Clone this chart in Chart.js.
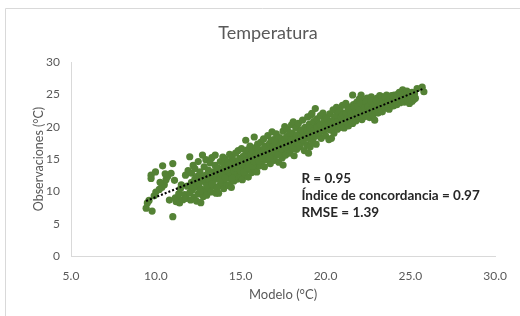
<!DOCTYPE html>
<html>
<head>
<meta charset="utf-8">
<script src="https://cdn.jsdelivr.net/npm/chart.js@4.4.1/dist/chart.umd.min.js"></script>
<style>
  html, body { margin: 0; padding: 0; background: #fff; }
  canvas { display: block; }
</style>
</head>
<body>
<canvas id="grafico" width="520" height="316"></canvas>
<script>
// Modelo (x) vs Observaciones (y), 10 puntos por linea
const modelo = [
  9.43, 9.78, 9.5, 9.6, 9.72, 9.98, 9.72, 10.4, 9.9, 10.0,
  10.2, 10.35, 10.5, 10.7, 10.6, 10.8, 11.0, 11.0, 11.2, 10.9,
  11.1, 10.55, 10.25, 11.15, 11.3, 11.4, 11.5, 11.35, 11.45, 11.6,
  11.7, 11.75, 11.8, 11.85, 11.9, 12.0, 12.0, 12.05, 12.1, 12.1,
  12.15, 12.2, 12.25, 12.3, 12.3, 12.35, 12.4, 12.45, 12.5, 12.5,
  12.55, 12.6, 12.65, 12.7, 12.75, 12.75, 12.8, 12.85, 12.9, 12.9,
  12.95, 13.0, 13.0, 13.05, 13.1, 13.15, 13.2, 13.2, 13.25, 13.3,
  13.35, 13.4, 13.4, 13.45, 13.5, 13.5, 13.55, 13.6, 13.65, 13.7,
  13.7, 13.75, 13.8, 13.85, 13.9, 13.9, 13.95, 14.0, 14.0, 14.0,
  14.05, 14.1, 14.1, 14.15, 14.2, 14.25, 14.3, 14.3, 14.35, 14.4,
  14.4, 14.45, 14.5, 14.5, 14.55, 14.6, 14.6, 14.65, 14.7, 14.75,
  14.8, 14.8, 14.85, 14.9, 14.95, 15.0, 15.0, 15.05, 15.1, 15.1,
  15.15, 15.2, 15.25, 15.3, 15.3, 15.35, 15.4, 15.4, 15.45, 15.5,
  15.55, 15.6, 15.6, 15.65, 15.7, 15.75, 15.8, 15.8, 15.85, 15.9,
  15.9, 15.95, 16.0, 16.0, 16.0, 16.05, 16.1, 16.15, 16.2, 16.25,
  16.3, 16.35, 16.4, 16.4, 16.45, 16.5, 16.55, 16.6, 16.65, 16.7,
  16.75, 16.8, 16.85, 16.9, 16.95, 17.0, 17.0, 17.05, 17.1, 17.15,
  17.2, 17.25, 17.3, 17.35, 17.4, 17.45, 17.5, 17.5, 17.55, 17.6,
  17.6, 17.65, 17.7, 17.75, 17.8, 17.85, 17.9, 17.95, 18.0, 18.0,
  18.05, 18.1, 18.1, 18.15, 18.2, 18.25, 18.3, 18.35, 18.4, 18.45,
  18.5, 18.55, 18.6, 18.65, 18.7, 18.75, 18.8, 18.85, 18.9, 18.95,
  19.0, 19.0, 19.05, 19.1, 19.1, 19.15, 19.2, 19.2, 19.25, 19.3,
  19.35, 19.4, 19.4, 19.45, 19.5, 19.55, 19.6, 19.65, 19.7, 19.75,
  19.8, 19.85, 19.9, 19.95, 20.0, 20.05, 20.1, 20.15, 20.2, 20.35,
  20.25, 20.3, 20.4, 20.45, 20.5, 20.55, 20.6, 20.65, 20.7, 20.75,
  20.8, 20.85, 20.9, 20.95, 21.0, 21.0, 21.05, 21.1, 21.15, 21.2,
  21.25, 21.3, 21.3, 21.35, 21.4, 21.45, 21.5, 21.55, 21.6, 21.6,
  21.65, 21.7, 21.75, 21.8, 21.85, 21.9, 21.95, 22.0, 22.0, 22.05,
  22.1, 22.1, 22.15, 22.2, 22.25, 22.3, 22.35, 22.4, 22.45, 22.5,
  22.55, 22.6, 22.65, 22.7, 22.7, 22.75, 22.8, 22.85, 22.9, 22.9,
  22.95, 23.0, 23.05, 23.1, 23.15, 23.2, 23.25, 23.3, 23.3, 23.35,
  23.4, 23.45, 23.5, 23.55, 23.6, 23.65, 23.7, 23.75, 23.8, 23.85,
  23.9, 23.95, 24.0, 24.05, 24.1, 24.15, 24.2, 24.25, 24.3, 24.35,
  24.4, 24.45, 24.5, 24.5, 24.55, 24.6, 24.65, 24.7, 24.75, 24.8,
  24.85, 24.9, 24.95, 25.0, 25.0, 25.05, 25.1, 25.15, 25.2, 25.25,
  25.4, 25.7, 25.8, 25.3, 25.1,
  12.2, 12.4, 12.6, 12.8, 13.0, 13.1, 13.3, 13.5, 13.6, 13.8,
  13.9, 14.1, 14.2, 14.3, 14.5, 14.6, 14.7, 14.9, 15.0, 15.1,
  15.2, 15.3, 15.4, 15.5, 15.6, 15.7, 15.8, 15.9, 16.1, 16.2,
  16.3, 16.4, 16.5, 16.6, 16.7, 16.8, 16.9, 17.0, 17.1, 17.2,
  17.3, 17.4, 17.5, 17.6, 17.7, 17.8, 17.9, 18.0, 18.1, 18.2,
  18.3, 18.4, 18.5, 18.6, 18.7, 18.8, 18.9, 19.0, 19.1, 19.2,
  19.3, 19.4, 19.5, 19.6, 19.7, 19.8, 19.9, 20.0, 20.1, 20.2,
  20.3, 20.4, 20.5, 20.6, 20.7, 20.8, 20.9, 21.0, 21.1, 21.2,
  21.3, 21.4, 21.5, 21.6, 21.7, 21.8, 21.9, 22.0, 22.1, 22.2,
  22.3, 22.4, 22.5, 22.6, 22.7, 22.8, 22.9, 23.0, 23.1, 23.2,
  23.3, 23.4, 23.5, 23.6, 23.7, 23.8, 23.9, 24.0, 24.2, 24.4
];
const observaciones = [
  7.4, 6.95, 8.2, 8.6, 12.5, 13.0, 12.0, 13.95, 9.3, 9.9,
  10.3, 10.6, 11.0, 12.3, 11.8, 8.65, 6.08, 14.3, 8.4, 12.8,
  11.7, 12.7, 11.4, 9.0, 8.9, 8.2, 11.0, 9.6, 10.4, 8.7,
  9.5, 12.5, 8.9, 10.8, 13.2, 15.35, 9.8, 8.66, 11.4, 12.8,
  10.2, 14.0, 9.1, 11.9, 13.5, 10.7, 8.5, 12.3, 14.6, 9.6,
  11.1, 13.0, 8.24, 10.3, 15.6, 12.0, 9.2, 13.8, 11.5, 10.0,
  14.9, 12.6, 9.4, 11.0, 13.3, 10.5, 14.4, 12.0, 9.9, 15.2,
  11.6, 13.0, 10.8, 12.4, 15.6, 14.0, 9.7, 11.9, 13.6, 9.7,
  12.7, 10.9, 14.6, 12.1, 13.3, 11.3, 15.3, 10.4, 12.9, 14.1,
  11.8, 13.6, 15.0, 12.4, 10.9, 14.5, 11.0, 13.0, 15.7, 12.0,
  14.0, 10.6, 13.4, 15.2, 12.6, 14.7, 11.6, 13.9, 15.9, 12.9,
  14.3, 11.9, 16.3, 13.3, 15.1, 12.3, 14.6, 16.6, 13.7, 11.8,
  15.4, 14.1, 12.7, 17.9, 15.8, 13.3, 16.4, 14.5, 12.2, 15.0,
  17.0, 13.8, 15.7, 12.9, 16.2, 14.4, 18.4, 15.3, 13.4, 16.8,
  14.8, 13.0, 15.9, 17.3, 14.2, 16.5, 13.9, 15.2, 17.6, 14.6,
  16.1, 18.1, 15.5, 13.8, 17.0, 16.4, 14.9, 18.6, 15.8, 17.4,
  14.3, 16.7, 19.2, 15.3, 18.0, 16.2, 14.8, 17.5, 18.9, 15.7,
  16.9, 14.5, 18.3, 16.0, 17.7, 15.2, 14.06, 19.3, 16.6, 20.0,
  18.0, 15.6, 17.2, 19.6, 16.4, 18.6, 15.9, 17.8, 20.3, 16.8,
  19.0, 20.75, 17.4, 15.5, 18.5, 19.8, 16.5, 17.9, 20.5, 18.9,
  16.9, 19.4, 17.6, 21.0, 18.3, 16.3, 19.9, 18.8, 17.2, 21.5,
  15.9, 19.0, 20.4, 16.9, 18.1, 21.8, 22.05, 19.6, 17.6, 20.8,
  18.6, 22.8, 19.9, 17.3, 21.2, 18.9, 20.4, 19.2, 21.7, 18.2,
  20.0, 22.1, 19.4, 20.9, 18.6, 21.4, 19.7, 20.6, 18.0, 18.2,
  22.0, 19.5, 20.9, 22.6, 19.0, 21.5, 20.2, 23.0, 19.6, 21.9,
  20.6, 22.5, 19.9, 21.2, 23.3, 20.4, 22.1, 19.8, 21.6, 23.6,
  20.7, 23.1, 22.3, 20.1, 21.9, 23.0, 21.0, 22.6, 24.9, 20.5,
  23.4, 21.7, 22.9, 20.9, 23.8, 22.2, 21.3, 23.5, 24.3, 21.9,
  24.9, 22.7, 21.1, 23.2, 22.4, 24.0, 21.6, 23.0, 24.4, 22.2,
  23.6, 21.4, 24.2, 24.6, 22.8, 23.3, 21.8, 24.0, 21.0, 22.5,
  23.7, 22.9, 24.4, 22.1, 23.5, 24.8, 22.7, 23.9, 24.6, 22.3,
  23.2, 24.3, 22.9, 23.8, 24.9, 23.0, 24.2, 22.7, 23.6, 24.7,
  23.6, 24.0, 23.2, 24.9, 23.9, 24.5, 23.4, 25.0, 24.1, 25.3,
  23.7, 24.6, 25.4, 24.0, 25.7, 24.8, 23.8, 25.2, 24.3, 25.5,
  24.0, 24.9, 23.6, 24.1, 25.0, 24.5, 23.9, 24.7, 24.2, 25.1,
  25.9, 26.1, 25.4, 24.4, 25.3,
  10.6, 11.6, 10.0, 12.4, 10.9, 12.0, 11.2, 12.8, 10.5, 11.8,
  12.6, 12.1, 13.3, 14.1, 12.0, 13.1, 13.6, 14.8, 13.1, 14.9,
  13.0, 14.7, 13.6, 14.2, 14.9, 13.9, 14.6, 15.5, 14.7, 16.0,
  15.1, 16.7, 15.6, 16.2, 15.1, 17.9, 16.9, 17.8, 16.4, 15.6,
  17.0, 16.6, 17.4, 16.9, 18.4, 17.3, 19.0, 18.0, 16.6, 17.5,
  18.6, 17.4, 18.1, 19.5, 17.9, 18.4, 19.5, 18.3, 19.8, 18.7,
  19.4, 18.5, 19.9, 19.0, 20.3, 19.5, 20.8, 20.2, 21.2, 19.6,
  20.8, 19.9, 21.0, 21.6, 20.8, 22.2, 21.5, 21.8, 20.9, 22.0,
  21.4, 22.6, 22.0, 21.7, 23.0, 22.4, 23.1, 22.6, 23.6, 22.0,
  22.9, 23.8, 23.1, 22.6, 23.9, 23.1, 23.4, 24.0, 23.1, 23.8,
  23.4, 24.0, 24.6, 23.5, 23.9, 24.2, 24.8, 24.5, 24.7, 24.9
];

// Linea de tendencia (extremos)
const tendenciaX = [9.43, 25.8];
const tendenciaY = [8.5, 25.9];

const etiquetasX = ['5.0', '10.0', '15.0', '20.0', '25.0', '30.0'];
const textoIndices = ['R = 0.95', 'Índice de concordancia = 0.97', 'RMSE = 1.39'];

const gris = '#595959';
const fuente = 'Lato, "Liberation Sans", sans-serif';

// marco del grafico (como en Excel) y cuadro de texto con los indices
const extras = {
  id: 'extras',
  beforeDraw(chart) {
    const c = chart.ctx;
    c.save();
    c.strokeStyle = '#d9d9d9';
    c.lineWidth = 1;
    c.beginPath();
    c.moveTo(5.5, 316);
    c.lineTo(5.5, 8.5);
    c.lineTo(520, 8.5);
    c.stroke();
    // titulo
    c.fillStyle = gris;
    c.font = '18px ' + fuente;
    c.textAlign = 'center';
    c.textBaseline = 'middle';
    c.fillText('Temperatura', 268, 33);
    c.restore();
  },
  afterDatasetsDraw(chart) {
    const c = chart.ctx;
    const sx = chart.scales.x, sy = chart.scales.y;
    const posY = [11.9, 9.27, 6.65];
    c.save();
    c.fillStyle = '#262626';
    c.font = 'bold 13.5px ' + fuente;
    c.textAlign = 'left';
    c.textBaseline = 'middle';
    textoIndices.forEach((t, i) => {
      c.fillText(t, sx.getPixelForValue(18.58), sy.getPixelForValue(posY[i]));
    });
    c.restore();
  }
};

function dibujarGrafico() {
  const ctx = document.getElementById('grafico').getContext('2d');
  const puntos = modelo.map((x, i) => ({ x: x, y: observaciones[i] }));
  const tendencia = tendenciaX.map((x, i) => ({ x: x, y: tendenciaY[i] }));

  new Chart(ctx, {
    type: 'scatter',
    data: {
      datasets: [
        {
          type: 'line',
          data: tendencia,
          borderColor: '#000',
          borderWidth: 2,
          borderDash: [2, 2],
          pointRadius: 0,
          fill: false,
          order: 0
        },
        {
          data: puntos,
          backgroundColor: '#548235',
          borderWidth: 0,
          pointRadius: 3.6,
          order: 1
        }
      ]
    },
    options: {
      responsive: false,
      animation: false,
      layout: { padding: { top: 62, right: 22, bottom: 0, left: 0 } },
      plugins: {
        legend: { display: false },
        tooltip: { enabled: false }
      },
      scales: {
        x: {
          type: 'linear',
          min: 5,
          max: 30,
          ticks: {
            stepSize: 5,
            color: gris,
            font: { family: fuente, size: 12 },
            padding: 13,
            callback: (v) => etiquetasX[Math.round((v - 5) / 5)]
          },
          grid: { display: false, drawTicks: false },
          border: { display: true, color: '#d9d9d9' },
          title: {
            display: true,
            text: 'Modelo (°C)',
            color: gris,
            font: { family: fuente, size: 13 },
            padding: { top: 4, bottom: 13 }
          },
          afterFit: (s) => { s.height = 60; }
        },
        y: {
          min: 0,
          max: 30,
          ticks: {
            stepSize: 5,
            color: gris,
            font: { family: fuente, size: 12 },
            padding: 11
          },
          grid: { display: false, drawTicks: false },
          border: { display: true, color: '#d9d9d9' },
          title: {
            display: true,
            text: 'Observaciones (°C)',
            color: gris,
            font: { family: fuente, size: 12.5 },
            padding: { top: 31, bottom: 0 }
          },
          afterFit: (s) => { s.width = 71; }
        }
      }
    },
    plugins: [extras]
  });
}

dibujarGrafico();
</script>
</body>
</html>
